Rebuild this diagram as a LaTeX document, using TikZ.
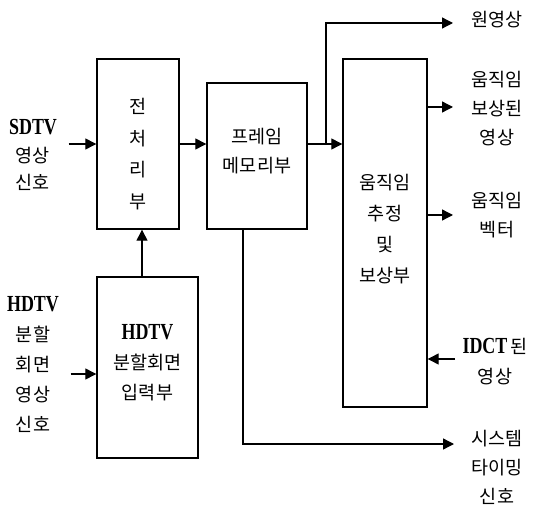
\documentclass[tikz,border=0pt]{standalone}
\usepackage{fontspec}
\setmainfont{Noto Sans CJK KR}
\newfontfamily\tvfont{Liberation Serif}[FakeStretch=0.78]
\usetikzlibrary{arrows.meta}
\newcommand{\tv}[1]{{\tvfont\bfseries\fontsize{23}{23}\selectfont #1}}

\begin{document}
\begin{tikzpicture}[x=1pt, y=-1pt, line width=1.4pt,
    blk/.style={draw, rectangle, inner sep=0pt},
    txt/.style={align=center, inner sep=0pt, font=\fontsize{18.5}{29}\selectfont},
    arr/.style={-{Triangle[length=11pt,width=11pt]}, line width=1.3pt}]
  \useasboundingbox (0,0) rectangle (533,513);
  % blocks
  \node[blk, minimum width=82pt, minimum height=170pt] (pre) at (138,144) {};
  \node[blk, minimum width=101pt, minimum height=181pt] (hdin) at (147.5,367.5) {};
  \node[blk, minimum width=100pt, minimum height=146pt] (frame) at (257,156) {};
  \node[blk, minimum width=84pt, minimum height=348pt] (me) at (385,233) {};
  % block texts
  \node[txt, font=\fontsize{18.5}{31.5}\selectfont] (pretxt) at ([yshift=-10pt]pre.center) {전\\처\\리\\부};
  \node[txt, font=\fontsize{18.5}{30}\selectfont] (hdintxt) at ([yshift=5pt]hdin.center) {\tv{HDTV}\\분할회면\\입력부};
  \node[txt] (frametxt) at ([yshift=5pt]frame.center) {프레임\\메모리부};
  \node[txt, font=\fontsize{18.5}{31}\selectfont] (metxt) at ([yshift=4pt]me.center) {움직임\\추정\\및\\보상부};
  % outside labels
  \node[txt, font=\fontsize{18.5}{27.5}\selectfont] (sdtv) at (33,155) {\tv{SDTV}\\영상\\신호};
  \node[txt, font=\fontsize{18.5}{30}\selectfont] (hdsig) at (33,365) {\tv{HDTV}\\분할\\회면\\영상\\신호};
  \node[txt] (orig) at (497,20) {원영상};
  \node[txt] (mcimg) at (497,109) {움직임\\보상된\\영상};
  \node[txt] (mv) at (497,215) {움직임\\벡터};
  \node[txt, font=\fontsize{18.5}{30}\selectfont] (idct) at (495,362) {\tv{IDCT}\,된\\영상};
  \node[txt] (systim) at (497,467) {시스템\\타이밍\\신호};
  % connectors
  \coordinate (outx) at (453,0);
  \coordinate (split) at (326,144);
  \coordinate (tim) at (454,444);
  \draw[arr] ([xshift=11pt]sdtv.east |- pre.west) -- (pre.west);
  \draw[arr] ([xshift=11pt]hdsig.east |- 0,374) -- (hdin.west |- 0,374);
  \draw[arr] ([xshift=4pt]pre.south |- hdin.north) -- ([xshift=4pt]pre.south);
  \draw[arr] (pre.east |- split) -- (frame.west |- split);
  \draw[arr] (frame.east |- split) -- (me.west |- split);
  \draw[arr] (split) |- (outx |- 0,23);
  \draw[arr] (me.east |- 0,107) -- (outx |- 0,107);
  \draw[arr] (me.east |- mv) -- (outx |- mv);
  \draw[arr] ([xshift=2pt]outx |- 0,359) -- (me.east |- 0,359);
  \draw[arr] ([xshift=-14pt]frame.south) |- (tim);
\end{tikzpicture}
\end{document}
